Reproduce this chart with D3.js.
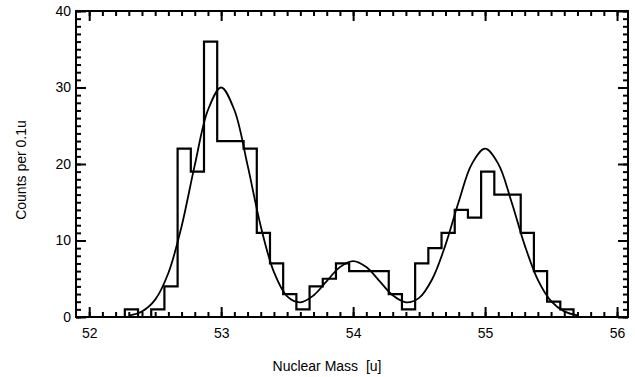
<!DOCTYPE html>
<html lang="en">
<head>
    <meta charset="UTF-8">
    <title>Nuclear Mass spectrum (D3.js)</title>
    <script src="https://d3js.org/d3.v7.min.js"></script>
    <style>
        body { margin: 0; background: #fff; }
        text { font-family: "Liberation Sans", Arial, Helvetica, sans-serif; fill: #000; }
    </style>
</head>
<body>
    <svg width="635" height="377" id="chart"></svg>

    <script>
        // Histogram: counts per 0.1u bin, first bin starts at 52.27
        const binStart = 52.27;
        const binWidth = 0.1;
        const counts = [1, 0, 1, 4, 22, 19, 36, 23, 23, 22, 11, 7, 3, 1, 4, 5, 7, 6, 6, 6,
                        3, 1, 7, 9, 11, 14, 13, 19, 16, 16, 11, 6, 2, 1];

        // Fitted curve
        const fitMass = [52.3, 52.4, 52.5, 52.6, 52.7, 52.8, 52.9, 53.0, 53.1, 53.2, 53.3, 53.4,
                         53.5, 53.6, 53.7, 53.8, 53.9, 54.0, 54.1, 54.2, 54.3, 54.4, 54.5, 54.6,
                         54.7, 54.8, 54.9, 55.0, 55.1, 55.2, 55.3, 55.4, 55.5, 55.6, 55.7];
        const fitCounts = [0.19, 0.73, 2.27, 5.75, 11.84, 19.85, 27.06, 30.0, 27.06, 19.85, 11.87, 5.87,
                           2.70, 1.92, 2.82, 4.68, 6.52, 7.3, 6.53, 4.69, 2.84, 1.92, 2.50, 4.97,
                           9.43, 15.07, 20.02, 22.0, 20.02, 15.07, 9.40, 4.85, 2.07, 0.73, 0.21];

        const xMajor = [52, 53, 54, 55, 56];
        const yMajor = [0, 10, 20, 30, 40];

        const svg = d3.select("#chart");
        const plotLeft = 76, plotRight = 628, plotTop = 11, plotBottom = 317;

        const x = d3.scaleLinear().domain([51.9, 56.083]).range([plotLeft, plotRight]);
        const y = d3.scaleLinear().domain([0, 40]).range([plotBottom, plotTop]);

        const xMinor = d3.range(520, 561).map(d => d / 10);
        const yMinor = d3.range(0, 41);

        // histogram as a step line
        const steps = [[binStart, 0]];
        counts.forEach((c, i) => {
            const lo = binStart + i * binWidth;
            steps.push([lo, c], [lo + binWidth, c]);
        });
        steps.push([binStart + counts.length * binWidth, 0]);

        svg.append("path")
            .datum(steps)
            .attr("fill", "none")
            .attr("stroke", "#000")
            .attr("stroke-width", 2.2)
            .attr("d", d3.line().x(d => x(d[0])).y(d => y(d[1])));

        // fit curve
        svg.append("path")
            .datum(fitMass.map((m, i) => [m, fitCounts[i]]))
            .attr("fill", "none")
            .attr("stroke", "#000")
            .attr("stroke-width", 1.8)
            .attr("d", d3.line().curve(d3.curveCatmullRom.alpha(0.5)).x(d => x(d[0])).y(d => y(d[1])));

        // axes: inward ticks on all four sides
        function side(axis, vals, len, tx, ty, labels) {
            const g = svg.append("g")
                .attr("transform", `translate(${tx},${ty})`)
                .call(axis.tickValues(vals).tickSizeInner(-len).tickSizeOuter(0)
                    .tickFormat(labels ? d3.format("d") : () => ""));
            g.select(".domain").remove();
            g.selectAll(".tick line").attr("stroke", "#000").attr("stroke-width", 2);
            g.selectAll(".tick text").attr("font-size", 14).attr("font-family", null);
        }
        side(d3.axisBottom(x), xMinor, 5, 0, plotBottom, false);
        side(d3.axisTop(x), xMinor, 5, 0, plotTop, false);
        side(d3.axisLeft(y), yMinor, 5, plotLeft, 0, false);
        side(d3.axisRight(y), yMinor, 5, plotRight, 0, false);
        side(d3.axisBottom(x).tickPadding(11), xMajor, 10, 0, plotBottom, true);
        side(d3.axisTop(x), xMajor, 10, 0, plotTop, false);
        side(d3.axisLeft(y).tickPadding(5), yMajor, 10, plotLeft, 0, true);
        side(d3.axisRight(y), yMajor, 10, plotRight, 0, false);

        // frame
        svg.append("rect")
            .attr("x", plotLeft).attr("y", plotTop)
            .attr("width", plotRight - plotLeft).attr("height", plotBottom - plotTop)
            .attr("fill", "none").attr("stroke", "#000").attr("stroke-width", 2);

        // axis titles
        svg.append("text")
            .attr("x", 327).attr("y", 371)
            .attr("text-anchor", "middle")
            .attr("font-size", 14)
            .attr("xml:space", "preserve")
            .text("Nuclear Mass  [u]");
        svg.append("text")
            .attr("transform", "translate(26,170) rotate(-90)")
            .attr("text-anchor", "middle")
            .attr("font-size", 14)
            .text("Counts per 0.1u");
    </script>
</body>
</html>
